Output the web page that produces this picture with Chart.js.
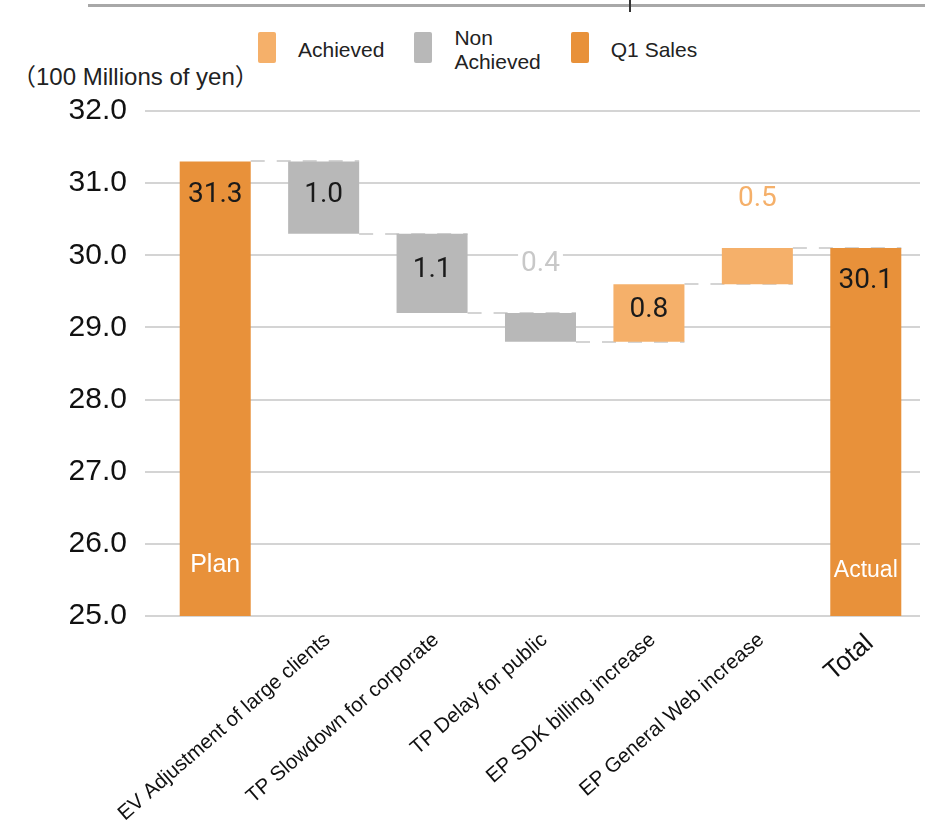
<!DOCTYPE html>
<html>
<head>
<meta charset="utf-8">
<title>Q1 Sales waterfall</title>
<script src="https://cdn.jsdelivr.net/npm/chart.js@4.4.1/dist/chart.umd.min.js"></script>
<style>
  body { margin: 0; background: #fff; font-family: "Liberation Sans", Arial, sans-serif; }
  #wrap { position: relative; width: 925px; height: 820px; overflow: hidden; }
  #chart { position: absolute; left: 0; top: 0; }
  .top-rule { position: absolute; left: 88px; right: 0; top: 4px; height: 3px; background: #a8a8a8; }
  .title-tail { position: absolute; left: 629px; top: 0; width: 2px; height: 12px; background: #333; }
  .unit { position: absolute; left: 12px; top: 57px; font-size: 24px; color: #222;
          font-family: "Liberation Sans", "Noto Sans CJK JP", sans-serif; }
  #legend { position: absolute; left: 258px; top: 32px; height: 31px; display: flex; align-items: center; }
  .item { display: flex; align-items: center; margin-right: 30px; }
  .swatch { width: 18px; height: 31px; border-radius: 2px; margin-right: 22px; }
  .item span { font-size: 21px; line-height: 24px; color: #222; white-space: pre-line; margin-top: 4px; }
</style>
</head>
<body>
<div id="wrap">
  <div class="top-rule"></div>
  <div class="title-tail"></div>
  <div id="legend"></div>
  <div class="unit">（100 Millions of yen）</div>
  <canvas id="chart" width="925" height="820"></canvas>
</div>
<script>
// waterfall data (100 millions of yen)
const categories = ['', 'EV Adjustment of large clients', 'TP Slowdown for corporate', 'TP Delay for public',
                    'EP SDK billing increase', 'EP General Web increase', 'Total'];
const planValue = 31.3;
const changes = [-1.0, -1.1, -0.4, 0.8, 0.5];
const actualValue = 30.1;
const barNotes = ['Plan', '', '', '', '', '', 'Actual'];
const seriesNames = ['Achieved', 'Non\nAchieved', 'Q1 Sales'];
const seriesColors = ['#F5B06A', '#B8B8B8', '#E8913A'];
const yMin = 25, yMax = 32, yStep = 1;

const n = categories.length;
const achieved = new Array(n).fill(null);
const nonAchieved = new Array(n).fill(null);
const sales = new Array(n).fill(null);
const levels = [planValue]; // running total after each bar

sales[0] = [yMin, planValue];
let level = planValue;
changes.forEach((c, i) => {
    const next = Math.round((level + c) * 10) / 10;
    const range = [Math.min(level, next), Math.max(level, next)];
    if (c >= 0) achieved[i + 1] = range; else nonAchieved[i + 1] = range;
    level = next;
    levels.push(level);
});
sales[n - 1] = [yMin, actualValue];
levels.push(actualValue);

// legend
const legend = document.getElementById('legend');
seriesNames.forEach((name, k) => {
    const item = document.createElement('div');
    item.className = 'item';
    item.innerHTML = '<div class="swatch" style="background:' + seriesColors[k] + '"></div><span></span>';
    item.querySelector('span').textContent = name;
    legend.appendChild(item);
});

function barAt(chart, i) {
    for (let d = 0; d < chart.data.datasets.length; d++) {
        if (chart.data.datasets[d].data[i] != null) return { el: chart.getDatasetMeta(d).data[i], d: d };
    }
}

// dashed connectors between bars
const connectors = {
    id: 'connectors',
    beforeDatasetsDraw(chart) {
        const ctx = chart.ctx, y = chart.scales.y;
        ctx.save();
        ctx.strokeStyle = '#d4d4d4';
        ctx.lineWidth = 2;
        ctx.setLineDash([14, 12]);
        for (let i = 0; i < n - 1; i++) {
            const a = barAt(chart, i).el, b = barAt(chart, i + 1).el;
            const py = Math.round(y.getPixelForValue(levels[i]));
            ctx.beginPath();
            ctx.moveTo(a.x + a.width / 2, py);
            ctx.lineTo(b.x + b.width / 2, py);
            ctx.stroke();
        }
        ctx.restore();
    }
};

// value labels + Plan / Actual notes
const aboveColors = ['#F5B06A', '#C8C8C8', '#1a1a1a'];
const valueLabels = {
    id: 'valueLabels',
    afterDatasetsDraw(chart) {
        const ctx = chart.ctx;
        ctx.save();
        ctx.textAlign = 'center';
        ctx.textBaseline = 'middle';
        for (let i = 0; i < n; i++) {
            const hit = barAt(chart, i);
            const el = hit.el;
            const isTotal = i === 0 || i === n - 1;
            const value = isTotal ? (i === 0 ? planValue : actualValue) : Math.abs(changes[i - 1]);
            const text = value.toFixed(1);
            const top = Math.min(el.y, el.base), bottom = Math.max(el.y, el.base);
            ctx.font = '28px Roboto';
            let ty, color = '#1a1a1a';
            if (isTotal) {
                ty = top + 33;
            } else if (bottom - top < 45) {
                ty = top - 49;
                color = aboveColors[hit.d];
                const w = ctx.measureText(text).width;
                ctx.fillStyle = '#fff';
                ctx.fillRect(el.x - w / 2 - 3, ty - 13, w + 6, 26);
            } else {
                ty = (top + bottom) / 2 - 3;
            }
            ctx.fillStyle = color;
            ctx.fillText(text, el.x, ty);
            if (barNotes[i]) {
                ctx.font = (i === 0 ? 25 : 23) + 'px "Liberation Sans"';
                ctx.fillStyle = '#fff';
                ctx.fillText(barNotes[i], el.x, bottom - (i === 0 ? 51 : 45));
            }
        }
        ctx.restore();
    }
};

new Chart(document.getElementById('chart'), {
    type: 'bar',
    data: {
        labels: categories,
        datasets: [achieved, nonAchieved, sales].map((data, k) => ({
            label: seriesNames[k],
            data: data,
            backgroundColor: seriesColors[k],
            borderWidth: 0,
            categoryPercentage: 1,
            barPercentage: 0.655
        }))
    },
    options: {
        responsive: false,
        animation: false,
        layout: { padding: { top: 111, right: 5, left: 0, bottom: 0 } },
        plugins: { legend: { display: false }, tooltip: { enabled: false } },
        scales: {
            x: {
                stacked: true,
                grid: { display: false },
                border: { display: false },
                ticks: {
                    autoSkip: false,
                    minRotation: 41,
                    maxRotation: 41,
                    padding: 4,
                    labelOffset: 4,
                    color: '#111',
                    font: c => ({ family: 'Liberation Sans', size: c.index === n - 1 ? 26 : 20.5 })
                },
                afterFit: s => { s.height = 204; }
            },
            y: {
                min: yMin,
                max: yMax,
                grid: { color: '#d4d4d4', lineWidth: 2, tickLength: 16 },
                border: { display: false },
                ticks: {
                    stepSize: yStep,
                    padding: 18,
                    color: '#111',
                    font: { family: 'Liberation Sans', size: 30 },
                    callback: v => v.toFixed(1)
                },
                afterFit: s => { s.width = 161; }
            }
        }
    },
    plugins: [connectors, valueLabels]
});
</script>
</body>
</html>
